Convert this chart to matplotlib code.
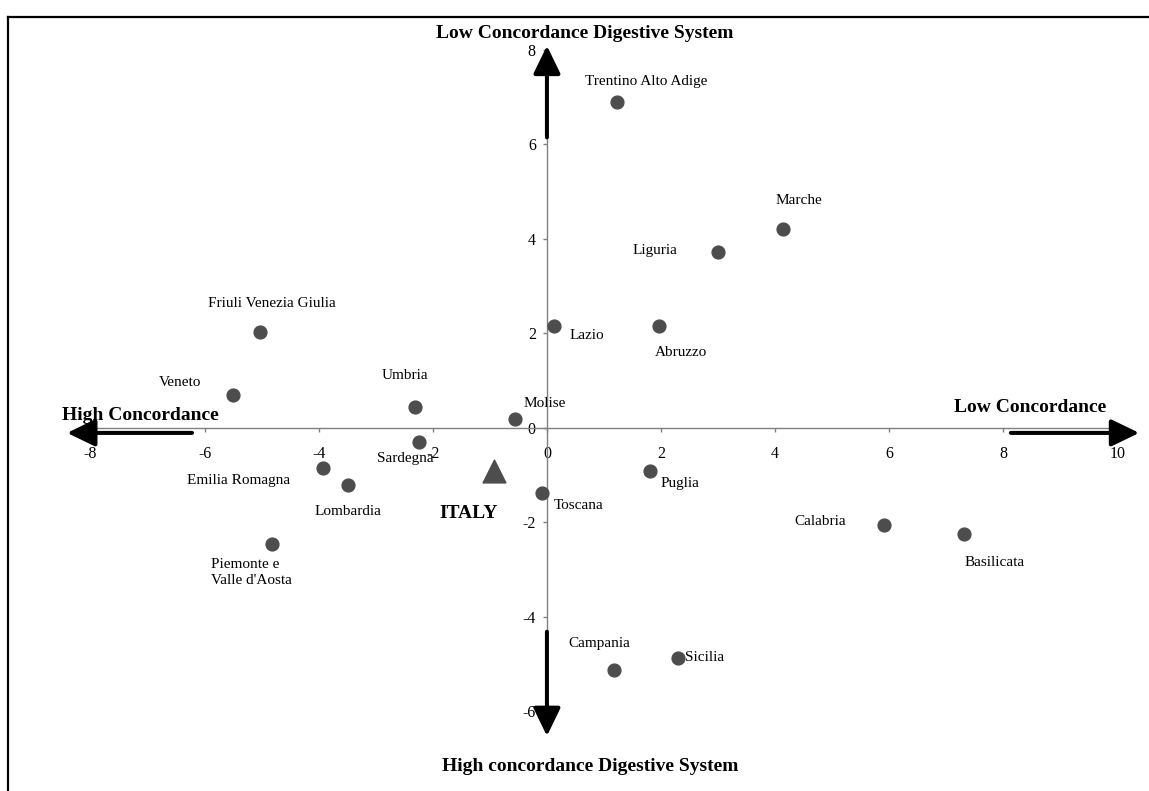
# Regional concordance map, digestive system

import matplotlib.pyplot as plt
from matplotlib.lines import Line2D

plt.rcParams['font.family'] = ['Liberation Serif', 'DejaVu Serif']
plt.rcParams['axes.unicode_minus'] = False


# Region names and their two coordinates
regions = ['Trentino Alto Adige', 'Marche', 'Liguria', 'Lazio', 'Abruzzo',
           'Friuli Venezia Giulia', 'Veneto', 'Umbria', 'Molise', 'Sardegna',
           'Emilia Romagna', 'Lombardia', 'Toscana', 'Puglia', 'Calabria',
           'Basilicata', "Piemonte e\nValle d'Aosta", 'Campania', 'Sicilia']
x_values = [1.22, 4.13, 2.99, 0.12, 1.97,
            -5.03, -5.50, -2.32, -0.56, -2.24,
            -3.92, -3.48, -0.08, 1.80, 5.90,
            7.31, -4.82, 1.18, 2.29]
y_values = [6.89, 4.20, 3.72, 2.15, 2.15,
            2.02, 0.69, 0.43, 0.19, -0.30,
            -0.86, -1.21, -1.38, -0.92, -2.06,
            -2.25, -2.47, -5.13, -4.87]

# The national value
italy_x = [-0.93]
italy_y = [-0.91]

x_ticks = [-8, -6, -4, -2, 0, 2, 4, 6, 8, 10]
y_ticks = [-6, -4, -2, 0, 2, 4, 6, 8]


# Where each label sits relative to its dot (pixels, right / down) and its alignment
label_offsets = {
    'Trentino Alto Adige': (30, -21, 'center'),
    'Marche': (16, -29, 'center'),
    'Liguria': (-63, -2, 'center'),
    'Lazio': (33, 9, 'center'),
    'Abruzzo': (22, 26, 'center'),
    'Friuli Venezia Giulia': (12, -29, 'center'),
    'Veneto': (-53, -13, 'center'),
    'Umbria': (-10, -32, 'center'),
    'Molise': (30, -15, 'center'),
    'Sardegna': (-14, 17, 'center'),
    'Emilia Romagna': (-85, 12, 'center'),
    'Lombardia': (0, 27, 'center'),
    'Toscana': (36, 13, 'center'),
    'Puglia': (30, 12, 'center'),
    'Calabria': (-63, -3, 'center'),
    'Basilicata': (31, 29, 'center'),
    "Piemonte e\nValle d'Aosta": (-61, 28, 'left'),
    'Campania': (-15, -26, 'center'),
    'Sicilia': (7, 0, 'left'),
}


fig = plt.figure(figsize=(11.49, 7.91), dpi=100)
ax = fig.add_axes([90.5 / 1149, 80 / 791, 1027 / 1149, 661 / 791])

# Axes cross at the origin
ax.set_xlim(-8, 10)
ax.set_ylim(-6, 8)
for side in ['top', 'right']:
    ax.spines[side].set_visible(False)
for side in ['left', 'bottom']:
    ax.spines[side].set_position(('data', 0))
    ax.spines[side].set_color('#808080')
    ax.spines[side].set_linewidth(1.0)

ax.set_xticks(x_ticks)
ax.set_yticks(y_ticks)
ax.tick_params(axis='x', direction='out', length=3, width=1, color='#808080',
               pad=10, labelsize=11.5)
ax.tick_params(axis='y', direction='out', length=3, width=1, color='#808080',
               pad=5, labelsize=11.5)
ax.patch.set_visible(False)

# The regions
ax.scatter(x_values, y_values, s=85, color='#4d4d4d', zorder=3, clip_on=False)
for name, x, y in zip(regions, x_values, y_values):
    dx, dy, ha = label_offsets[name]
    ax.annotate(name, (x, y), xytext=(dx, -dy), textcoords='offset pixels',
                ha=ha, va='center', fontsize=11, linespacing=1.3,
                annotation_clip=False)

# Italy as a whole
ax.scatter(italy_x, italy_y, s=270, marker='^', color='#4d4d4d', zorder=3)
ax.annotate('ITALY', (italy_x[0], italy_y[0]), xytext=(-25, -43),
            textcoords='offset pixels', ha='center', va='center',
            fontsize=14, fontweight='bold')

# Thick direction arrows
arrow_style = dict(arrowstyle='-|>,head_length=0.95,head_width=0.46', lw=2.9,
                   color='black', shrinkA=0, shrinkB=0, mutation_scale=18)
for tip, start in [((-8.41, -0.11), (-6.22, -0.11)),
                   ((10.38, -0.11), (8.13, -0.11)),
                   ((0, 8.09), (0, 6.15)),
                   ((0, -6.53), (0, -4.32))]:
    ax.annotate('', xy=tip, xytext=start, arrowprops=arrow_style,
                annotation_clip=False)

# Direction names
bold = dict(fontsize=14, fontweight='bold', ha='center', va='center', clip_on=False)
ax.text(-7.13, 0.26, 'High Concordance', **bold)
ax.text(8.46, 0.43, 'Low Concordance', **bold)
ax.text(0.67, 8.36, 'Low Concordance Digestive System', **bold)
ax.text(0.76, -7.17, 'High concordance Digestive System', **bold)

# Frame round the chart (only the left and top edges show)
fig.add_artist(Line2D([8 / 1149, 8 / 1149], [0, 1 - 17 / 791], color='black', lw=1.6))
fig.add_artist(Line2D([8 / 1149, 1], [1 - 17 / 791, 1 - 17 / 791], color='black', lw=1.6))

fig.savefig('out.png', dpi=100)
